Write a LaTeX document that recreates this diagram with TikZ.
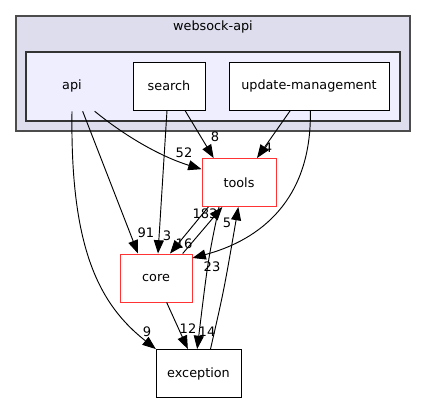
\documentclass[tikz,border=0pt]{standalone}
\usepackage{fontspec}
\setmainfont{DejaVu Sans}
\usetikzlibrary{arrows.meta}
\definecolor{Cluster}{HTML}{DDDDEE}
\definecolor{Inner}{HTML}{EEEEFF}
\colorlet{Red}{red!80}
\tikzset{
  dirbox/.style={draw=black, fill=white, line width=0.7pt, inner sep=0pt, minimum height=36pt},
  redbox/.style={dirbox, draw=Red},
  dep/.style={line width=0.7pt, -{Triangle[length=10pt,width=7.5pt]}},
  lbl/.style={inner sep=0pt, font=\fontsize{9.8pt}{11pt}\selectfont}
}
\begin{document}
\begin{tikzpicture}[x=0.75pt, y=-0.75pt, font=\fontsize{9.6pt}{11pt}\selectfont]
        \useasboundingbox (0,0) rectangle (427,404);
        \draw[fill=Cluster, draw=black!70, line width=0.8pt] (16,16) rectangle (410,131);
        \node[lbl, font=\fontsize{9.6pt}{11pt}\selectfont] (websock) at (213,27) {websock-api};
        \draw[fill=Inner, draw=black!80, line width=0.8pt] (26,52) rectangle (400,121);
        \node[inner sep=0pt, minimum height=37.5pt, minimum width=30pt] (api) at (72,86) {api};
        \node[dirbox, minimum width=54pt] (search) at (169,86) {search};
        \node[dirbox, minimum width=120pt] (update) at (309,86) {update-management};
        \node[redbox, minimum width=55.5pt] (tools) at (239,182.5) {tools};
        \node[redbox, minimum width=54pt] (core) at (156,278) {core};
        \node[dirbox, minimum width=63.75pt] (exception) at (198.5,373.5) {exception};

        % edges (dependencies)
        \draw[dep] ([xshift=0pt]api.south) .. controls (70,250) and (100,305) .. ([xshift=-32pt]exception.north);
        \draw[dep] ([xshift=8pt]api.south) -- ([xshift=-13.5pt]core.north);
        \draw[dep] ([xshift=17pt]api.south) .. controls (130,140) and (165,158) .. ([yshift=10pt]tools.west);
        \draw[dep] ([xshift=-1.5pt]search.south) -- ([xshift=1.5pt]core.north);
        \draw[dep] ([xshift=12pt]search.south) -- ([xshift=-19pt]tools.north);
        \draw[dep] ([xshift=-14pt]update.south) -- ([xshift=13.5pt]tools.north);
        \draw[dep] ([xshift=1pt]update.south) .. controls (312,200) and (260,240) .. ([yshift=15pt]core.east);
        \draw[dep] ([xshift=20pt]core.north) -- ([xshift=-12.5pt]tools.south);
        \draw[dep] ([xshift=-23pt]tools.south) -- ([xshift=10.5pt]core.north);
        \draw[dep] ([xshift=8pt]core.south) -- ([xshift=-8pt]exception.north);
        \draw[dep] ([xshift=-15pt]tools.south) .. controls (208,260) .. ([xshift=-1pt]exception.north);
        \draw[dep] ([xshift=9pt]exception.north) .. controls (224,290) .. ([xshift=-0.5pt]tools.south);

        % labels
        \node[lbl] (l52) at (184,153) {52};
        \node[lbl] (l8) at (215,137) {8};
        \node[lbl] (l4) at (268,148) {4};
        \node[lbl] (l91) at (146,233) {91};
        \node[lbl] (l3) at (167,236) {3};
        \node[lbl] (l183) at (205,214) {183};
        \node[lbl] (l16) at (184,244) {16};
        \node[lbl] (l5) at (227,223) {5};
        \node[lbl] (l23) at (212,267) {23};
        \node[lbl] (l9) at (147,332) {9};
        \node[lbl] (l12) at (188,329) {12};
        \node[lbl] (l14) at (207,332) {14};
\end{tikzpicture}
\end{document}
